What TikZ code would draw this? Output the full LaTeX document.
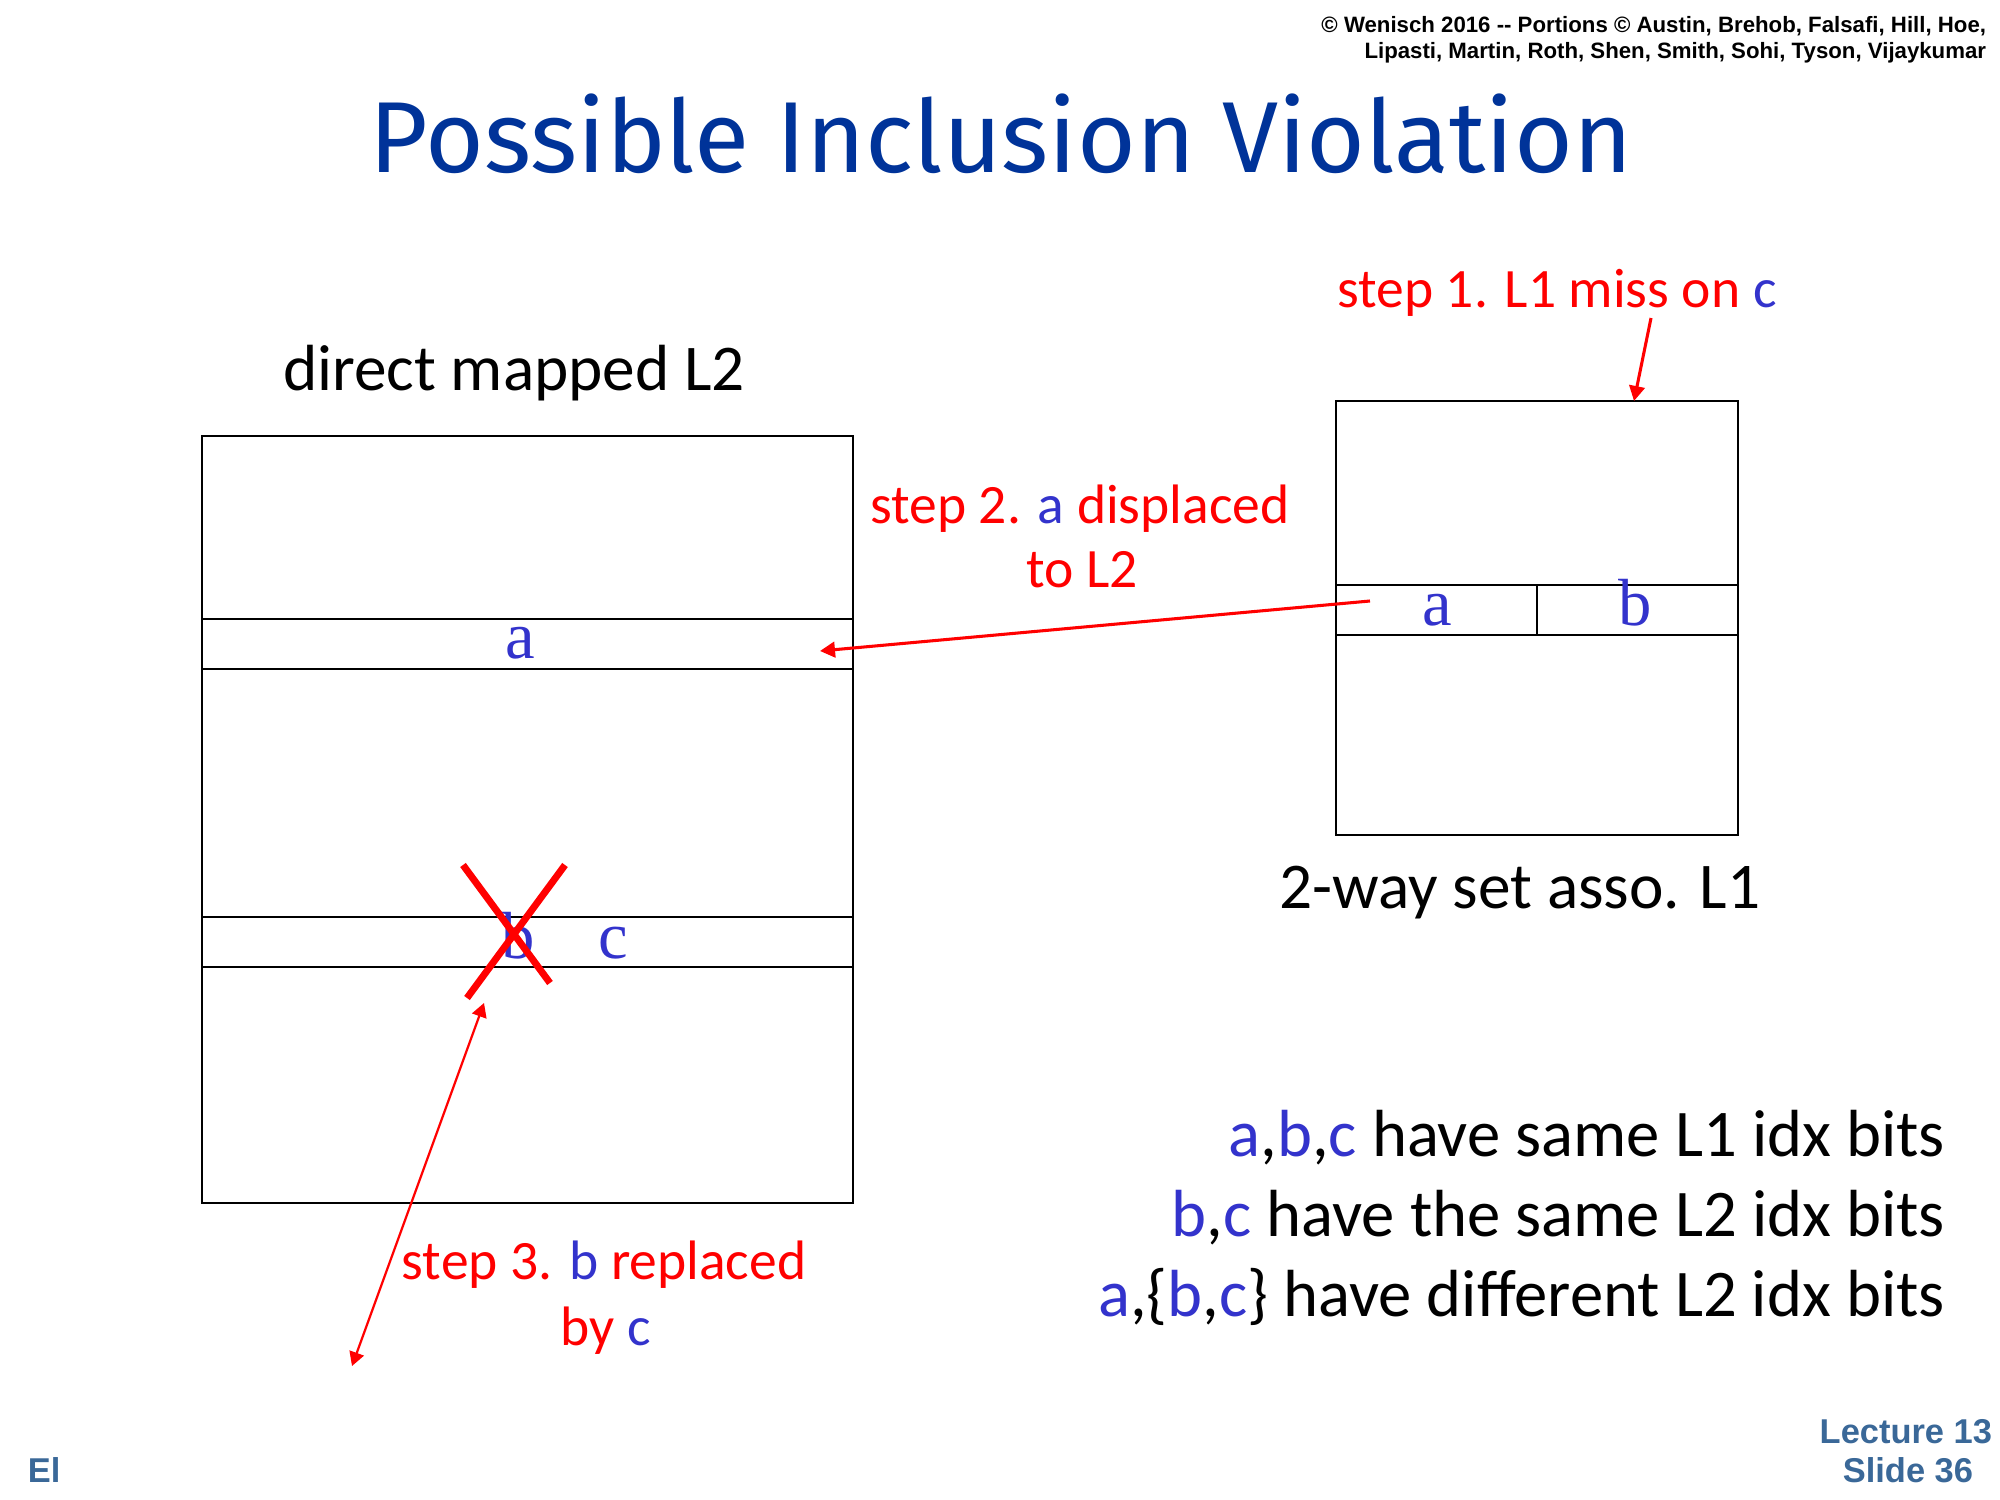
\documentclass[tikz,border=0pt]{standalone}
\usepackage{fontspec}
\setmainfont{Carlito}
\newfontfamily\ttlfont{Fira Sans}
\newfontfamily\tmsfont{Liberation Serif}
\newfontfamily\arlfont{Liberation Sans}
\usetikzlibrary{arrows.meta}
\definecolor{ttlblue}{HTML}{003399}
\definecolor{ltr}{HTML}{3333CC}
\definecolor{redc}{HTML}{FF0000}
\definecolor{ftblue}{HTML}{3A6898}
\newcommand{\lb}[1]{\textcolor{ltr}{#1}}
\begin{document}
\begin{tikzpicture}[x=0.36pt,y=-0.36pt,
  txt/.style={inner sep=0pt, outer sep=0pt, anchor=base},
  boxst/.style={draw=black, line width=1pt, inner sep=0pt, outer sep=0pt},
  cell/.style={txt, font=\tmsfont\fontsize{24}{28}\selectfont, text=ltr},
  body/.style={txt, font=\fontsize{23.5}{28}\selectfont},
  notes/.style={txt, anchor=base east, font=\fontsize{24}{28}\selectfont},
  stepl/.style={txt, font=\fontsize{20}{24}\selectfont, text=redc},
  arr/.style={draw=redc, line width=1.1pt, -{Triangle[length=5.4pt,width=5.6pt]}},
  arrtwo/.style={draw=redc, line width=0.8pt, {Triangle[length=5pt,width=5.4pt]}-{Triangle[length=5pt,width=5.4pt]}},
  cross/.style={draw=redc, line width=2.5pt},
  copyr/.style={txt, anchor=base east, font=\arlfont\bfseries\fontsize{8}{9}\selectfont},
  foot/.style={txt, font=\arlfont\bfseries\fontsize{12.4}{14}\selectfont, text=ftblue}
]
\useasboundingbox (0,0) rectangle (2000,1500);

% title and credits
\node[txt, font=\ttlfont\fontsize{36.3}{44}\selectfont, text=ttlblue] (title) at (1001,173) {Possible Inclusion Violation};
\node[copyr] (cr1) at (1986,33) {© Wenisch 2016 -- Portions © Austin, Brehob, Falsafi, Hill, Hoe,};
\node[copyr] (cr2) at (1986,59) {Lipasti, Martin, Roth, Shen, Smith, Sohi, Tyson, Vijaykumar};

% L2 cache
\node[body] (dmlabel) at (514,391) {direct mapped L2};
\node[boxst, minimum width=234.36pt, minimum height=276.12pt] (L2) at (527.5,819.5) {};
\node[boxst, minimum width=234.36pt, minimum height=18pt] (rowA) at (527.5,644) {};
\node[boxst, minimum width=234.36pt, minimum height=18pt] (rowBC) at (527.5,942) {};
\node[cell] (l2a) at (520,658) {a};
\node[cell] (l2b) at (518,958) {b};
\node[cell] (l2c) at (613,958) {c};
\draw[cross] (463,865) -- (550,983);
\draw[cross] (565,865) -- (467,998);

% L1 cache
\node[boxst, minimum width=144.72pt, minimum height=156.24pt] (L1) at (1537,618) {};
\node[boxst, minimum width=72.36pt, minimum height=18pt] (cellA) at (1436.5,610) {};
\node[boxst, minimum width=72.36pt, minimum height=18pt] (cellB) at (1637.5,610) {};
\node[cell] (l1a) at (1437,625) {a};
\node[cell] (l1b) at (1635,625) {b};
\node[body] (l1label) at (1520,908) {2-way set asso. L1};

% steps
\node[stepl] (step1) at (1557,308) {step 1. L1 miss on \lb{c}};
\coordinate (s1from) at (1651,318);
\coordinate (s1to) at (1634,401);
\draw[arr] (s1from) -- (s1to);

\node[stepl] (step2a) at (1080,524) {step 2. \lb{a} displaced};
\node[stepl] (step2b) at (1082,588) {to L2};
\coordinate (s2from) at (1370,601);
\coordinate (s2to) at (820,651);
\draw[arr] (s2from) -- (s2to);

\node[stepl] (step3a) at (604,1279) {step 3. \lb{b} replaced};
\node[stepl] (step3b) at (606,1345) {by \lb{c}};
\coordinate (s3top) at (484,1003);
\coordinate (s3bot) at (352,1366);
\draw[arrtwo] (s3bot) -- (s3top);

% notes
\node[notes] (n1) at (1945,1156) {\lb{a},\lb{b},\lb{c} have same L1 idx bits};
\node[notes] (n2) at (1945,1236) {\lb{b},\lb{c} have the same L2 idx bits};
\node[notes] (n3) at (1945,1316) {\lb{a},\{\lb{b},\lb{c}\} have different L2 idx bits};

% footer
\node[foot, anchor=base east] (lect) at (1992,1443) {Lecture 13};
\node[foot, anchor=base east] (slide) at (1973,1482) {Slide 36};
\node[foot, anchor=base west] (el) at (28,1482) {El};
\end{tikzpicture}
\end{document}
